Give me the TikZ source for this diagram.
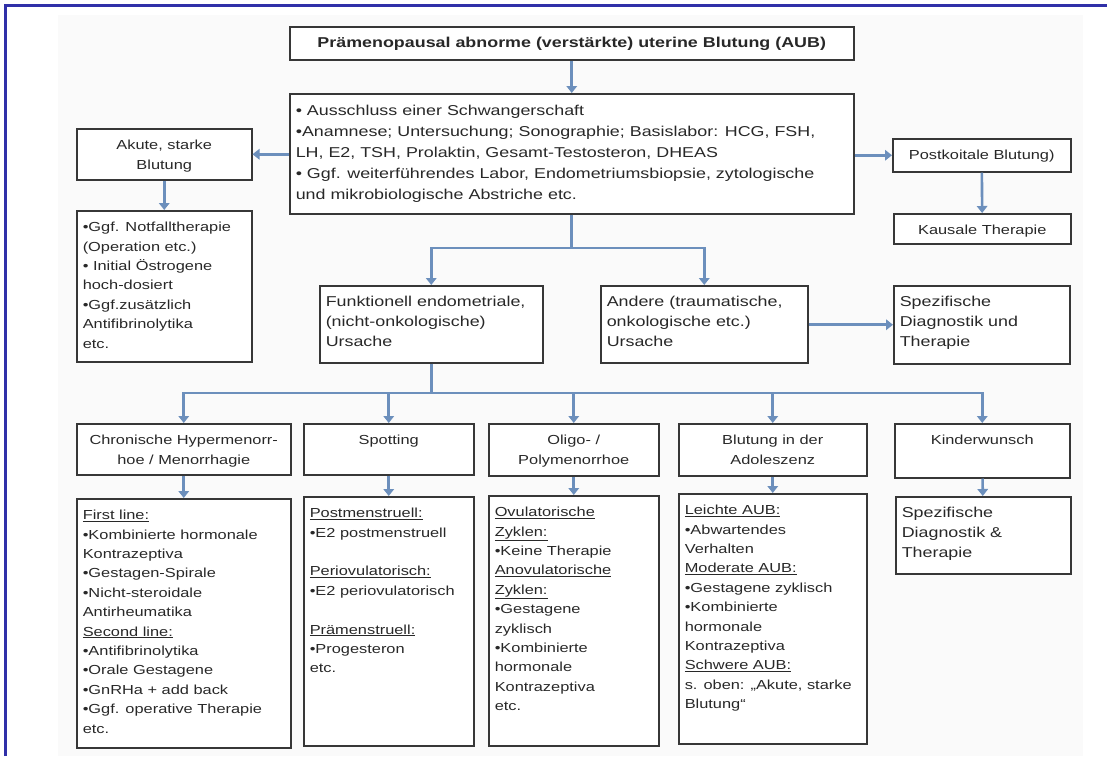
\documentclass[tikz,border=0pt]{standalone}
\usepackage{fontspec}
\setmainfont{Liberation Sans}[FakeStretch=1.25]
\usetikzlibrary{arrows.meta}
\definecolor{linkblue}{RGB}{108,143,188}
\definecolor{boxgray}{RGB}{55,55,55}
\definecolor{textgray}{RGB}{40,40,40}
\definecolor{frameblue}{RGB}{48,48,168}
\definecolor{paper}{RGB}{250,250,250}
\newcommand{\boxl}[2]{\parbox[t]{#1}{\raggedright #2}}
\newcommand{\boxc}[2]{\parbox[t]{#1}{\centering #2}}
\tikzset{
  box/.style={draw=boxgray, line width=1.5pt, fill=white, text=textgray, anchor=north west, inner xsep=6pt, inner ysep=0pt, text height=21pt},
  big/.style={font=\fontsize{14.3pt}{20pt}\selectfont},
  small/.style={font=\fontsize{13.1pt}{19.4pt}\selectfont},
  link/.style={draw=linkblue, line width=2.6pt},
  arr/.style={link, -{Triangle[length=7pt,width=10.5pt]}}
}
\begin{document}
\begin{tikzpicture}[x=1pt,y=-1pt]
\useasboundingbox (0,0) rectangle (1107,756);
\fill[paper] (58,15) rectangle (1083,756);
\draw[frameblue, line width=3pt] (5,756) -- (5,5) -- (1107,5);

\node[box, big, text depth=12pt] (title) at (289,26) {\boxc{552pt}{\bfseries Prämenopausal abnorme (verstärkte) uterine Blutung (AUB)}};
\node[box, font=\fontsize{14.3pt}{21pt}\selectfont, text height=22pt, text depth=98pt] (main) at (289,93) {\boxl{552pt}{• Ausschluss einer Schwangerschaft\\•Anamnese; Untersuchung; Sonographie; Basislabor: HCG, FSH,\\LH, E2, TSH, Prolaktin, Gesamt-Testosteron, DHEAS\\• Ggf. weiterführendes Labor, Endometriumsbiopsie, zytologische\\und mikrobiologische Abstriche etc.}};
\node[box, small, text depth=30pt] (akute) at (76,128) {\boxc{163pt}{Akute, starke\\Blutung}};
\node[box, small, text depth=130pt] (akute-th) at (76,210) {\boxl{163pt}{•Ggf. Notfalltherapie\\(Operation etc.)\\• Initial Östrogene\\hoch-dosiert\\•Ggf.zusätzlich\\Antifibrinolytika\\etc.}};
\node[box, small, text depth=12pt] (post) at (892,138) {\boxc{166pt}{Postkoitale Blutung)}};
\node[box, small, text depth=9pt] (kausal) at (893,213) {\boxc{165pt}{Kausale Therapie}};
\node[box, big, text depth=56pt] (funk) at (319,285) {\boxl{211pt}{Funktionell endometriale,\\(nicht-onkologische)\\Ursache}};
\node[box, big, text depth=56pt] (andere) at (600,285) {\boxl{195pt}{Andere (traumatische,\\onkologische etc.)\\Ursache}};
\node[box, big, text depth=57pt] (spez) at (893,285) {\boxl{164pt}{Spezifische\\Diagnostik und\\Therapie}};

\node[box, small, text depth=30pt] (chron) at (76,423) {\boxc{202pt}{Chronische Hypermenorr-\\hoe / Menorrhagie}};
\node[box, small, text depth=30pt] (spot) at (303,423) {\boxc{158pt}{Spotting}};
\node[box, small, text depth=31pt] (oligo) at (488,423) {\boxc{158pt}{Oligo- /\\Polymenorrhoe}};
\node[box, small, text depth=31pt] (adol) at (678,423) {\boxc{176pt}{Blutung in der\\Adoleszenz}};
\node[box, small, text depth=33pt] (kind) at (894,423) {\boxc{163pt}{Kinderwunsch}};

\node[box, small, text depth=228pt] (chron-th) at (76,498) {\boxl{202pt}{\underline{First line:}\\•Kombinierte hormonale\\Kontrazeptiva\\•Gestagen-Spirale\\•Nicht-steroidale\\Antirheumatika\\\underline{Second line:}\\•Antifibrinolytika\\•Orale Gestagene\\•GnRHa + add back\\•Ggf. operative Therapie\\etc.}};
\node[box, small, text depth=228pt] (spot-th) at (303,496) {\boxl{158pt}{\underline{Postmenstruell:}\\•E2 postmenstruell\\[19.4pt]\underline{Periovulatorisch:}\\•E2 periovulatorisch\\[19.4pt]\underline{Prämenstruell:}\\•Progesteron\\etc.}};
\node[box, small, text depth=229pt] (oligo-th) at (488,495) {\boxl{158pt}{\underline{Ovulatorische}\\\underline{Zyklen:}\\•Keine Therapie\\\underline{Anovulatorische}\\\underline{Zyklen:}\\•Gestagene\\zyklisch\\•Kombinierte\\hormonale\\Kontrazeptiva\\etc.}};
\node[box, small, text depth=229pt] (adol-th) at (678,493) {\boxl{176pt}{\underline{Leichte AUB:}\\•Abwartendes\\Verhalten\\\underline{Moderate AUB:}\\•Gestagene zyklisch\\•Kombinierte\\hormonale\\Kontrazeptiva\\\underline{Schwere AUB:}\\s. oben: „Akute, starke\\Blutung“}};
\node[box, big, text depth=56pt] (kind-th) at (895,496) {\boxl{163pt}{Spezifische\\Diagnostik \&\\Therapie}};

\coordinate (fork1) at (main.south |- 0,248);
\coordinate (fork2) at (funk.south |- 0,393);
\draw[arr] (title) -- (main);
\draw[arr] (main.west |- akute.east) -- (akute.east);
\draw[arr] (akute) -- (akute-th);
\draw[arr] (main.east |- post.west) -- (post.west);
\draw[arr] (post) -- (kausal);
\draw[link] (main.south) -- (fork1);
\draw[arr] (fork1) -| (funk.north);
\draw[arr] (fork1) -| (andere.north);
\draw[arr] (andere.east |- spez.west) -- (spez.west);
\draw[link] (funk.south) -- (fork2);
\foreach \n in {chron,spot,oligo,adol,kind} {
  \draw[arr] (fork2) -| (\n.north);
  \draw[arr] (\n) -- (\n-th);
}
\end{tikzpicture}
\end{document}
